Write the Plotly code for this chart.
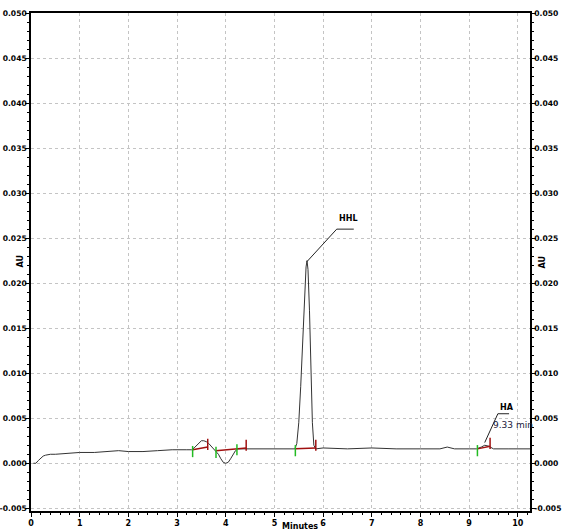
import plotly.graph_objects as go

# chromatogram trace (minutes, AU)
time_min = [0.05, 0.10, 0.15, 0.20, 0.25, 0.30, 0.40, 0.50, 0.70, 1.00, 1.30, 1.60, 1.80,
            2.00, 2.30, 2.60, 2.90, 3.20, 3.30, 3.35, 3.40, 3.45, 3.50, 3.55, 3.60, 3.65,
            3.70, 3.75, 3.80, 3.85, 3.90, 3.95, 4.00, 4.05, 4.10, 4.15, 4.20, 4.25, 4.40,
            4.70, 5.00, 5.30, 5.42, 5.46, 5.50, 5.54, 5.58, 5.62, 5.65, 5.67, 5.69, 5.72,
            5.75, 5.78, 5.81, 5.85, 6.00, 6.50, 7.00, 7.50, 8.00, 8.40, 8.55, 8.70, 9.00,
            9.15, 9.25, 9.32, 9.40, 9.50, 9.80, 10.20, 10.25]
absorb_au = [0.0000, 0.0000, 0.0003, 0.0006, 0.0008, 0.0009, 0.0010, 0.0010, 0.0011, 0.0012,
             0.0012, 0.0013, 0.0014, 0.0013, 0.0013, 0.0014, 0.0015, 0.0015, 0.0015, 0.0017,
             0.0020, 0.0023, 0.0025, 0.0025, 0.0024, 0.0022, 0.0019, 0.0016, 0.0014, 0.0010,
             0.0005, 0.0001, 0.0000, 0.0001, 0.0005, 0.0010, 0.0014, 0.0016, 0.0016, 0.0016,
             0.0016, 0.0016, 0.0016, 0.0022, 0.0045, 0.0085, 0.0135, 0.0190, 0.0218, 0.0225,
             0.0215, 0.0170, 0.0105, 0.0045, 0.0020, 0.0016, 0.0017, 0.0016, 0.0017, 0.0016,
             0.0016, 0.0016, 0.0018, 0.0016, 0.0016, 0.0016, 0.0018, 0.0020, 0.0019, 0.0016,
             0.0016, 0.0016, 0.0016]

# integration events (start / end of each peak) and baseline levels
peak_start = [3.32, 3.80, 5.43, 9.17]
peak_end = [3.63, 4.42, 5.85, 9.43]
base_start = [0.0015, 0.0014, 0.0016, 0.0016]
base_end = [0.0018, 0.0017, 0.0017, 0.0019]
extra_green = [4.23]
extra_green_y = [0.0015]

peak_names = ["HHL", "HA"]
peak_apex_t = [5.67, 9.30]
peak_apex_y = [0.0224, 0.0023]

x_ticks = list(range(0, 11))
y_ticks = [-0.005, 0.000, 0.005, 0.010, 0.015, 0.020, 0.025, 0.030, 0.035, 0.040, 0.045, 0.050]
y_range = [-0.0053, 0.0500]

fig = go.Figure()

fig.add_trace(go.Scatter(x=time_min, y=absorb_au, mode="lines",
                         line=dict(color="#333333", width=1), showlegend=False))

# red baseline segments
for s, e, ys, ye in zip(peak_start, peak_end, base_start, base_end):
    fig.add_trace(go.Scatter(x=[s, e], y=[ys, ye], mode="lines",
                             line=dict(color="#a01010", width=1.5), showlegend=False))

# green start ticks and red end ticks
fig.add_trace(go.Scatter(x=peak_start + extra_green, y=[v - 0.0002 for v in base_start] + extra_green_y,
                         mode="markers", marker=dict(symbol="line-ns", size=8,
                         line=dict(color="#22bb22", width=1.5)), showlegend=False))
fig.add_trace(go.Scatter(x=peak_end, y=[v + 0.0003 for v in base_end],
                         mode="markers", marker=dict(symbol="line-ns", size=8,
                         line=dict(color="#a01010", width=1.5)), showlegend=False))

# dummy trace so the right-hand axis is drawn
fig.add_trace(go.Scatter(x=[0], y=[0], yaxis="y2", mode="markers",
                         marker=dict(opacity=0), showlegend=False, hoverinfo="skip"))

# peak label leader lines
fig.add_trace(go.Scatter(x=[peak_apex_t[0], 6.28, 6.63], y=[peak_apex_y[0], 0.0260, 0.0260],
                         mode="lines", line=dict(color="#222", width=1), showlegend=False))
fig.add_trace(go.Scatter(x=[peak_apex_t[1] + 0.02, 9.59, 9.82], y=[peak_apex_y[1], 0.0055, 0.0055],
                         mode="lines", line=dict(color="#222", width=1), showlegend=False))

tick_font = dict(family="DejaVu Sans", size=8, color="black", weight="bold")
ytick_font = dict(family="DejaVu Sans", size=7.6, color="black", weight="bold")

fig.add_annotation(x=6.53, y=0.0272, text="HHL", showarrow=False, font=tick_font)
fig.add_annotation(x=9.77, y=0.0062, text="HA", showarrow=False, font=tick_font)
fig.add_annotation(x=9.90, y=0.0042, text="9.33 min", showarrow=False,
                   font=dict(family="DejaVu Sans", size=9, color="#1a1a3a"))

fig.add_annotation(x=-0.036, y=0.5, xref="paper", yref="paper", text="AU", textangle=-90,
                   showarrow=False, font=tick_font)
fig.add_annotation(x=1.038, y=0.5, xref="paper", yref="paper", text="AU", textangle=-90,
                   showarrow=False, font=tick_font)
fig.add_annotation(x=0.54, y=-0.019, xref="paper", yref="paper", text="Minutes",
                   yanchor="top", showarrow=False, font=tick_font)

grid = dict(showgrid=True, gridcolor="#c4c4c4", griddash="dot", gridwidth=1)
yax = dict(range=y_range, tickvals=y_ticks, ticktext=[f"{v:.3f}" for v in y_ticks],
           showline=True, linecolor="black", linewidth=1.5, ticks="outside", ticklen=4,
           tickcolor="black", tickfont=ytick_font, zeroline=False, automargin=False,
           ticklabelstandoff=-3,
           minor=dict(dtick=0.001, ticks="outside", ticklen=2, tickcolor="black", showgrid=False))

fig.update_layout(
    width=563, height=532,
    margin=dict(l=31, r=33, t=13, b=21),
    paper_bgcolor="white", plot_bgcolor="white",
    xaxis=dict(range=[0, 10.25], tickvals=x_ticks, showline=True, linecolor="black", linewidth=1.5,
               mirror=True, ticks="outside", ticklen=4, tickcolor="black", tickfont=tick_font,
               zeroline=False, automargin=False,
               minor=dict(dtick=0.2, ticks="outside", ticklen=2, tickcolor="black",
                          showgrid=False), **grid),
    yaxis=dict(**yax, **grid),
    yaxis2=dict(**yax, overlaying="y", side="right", showgrid=False),
)

fig.write_html("out.html", config={"displayModeBar": False},
               post_script="document.body.style.margin='0';")
